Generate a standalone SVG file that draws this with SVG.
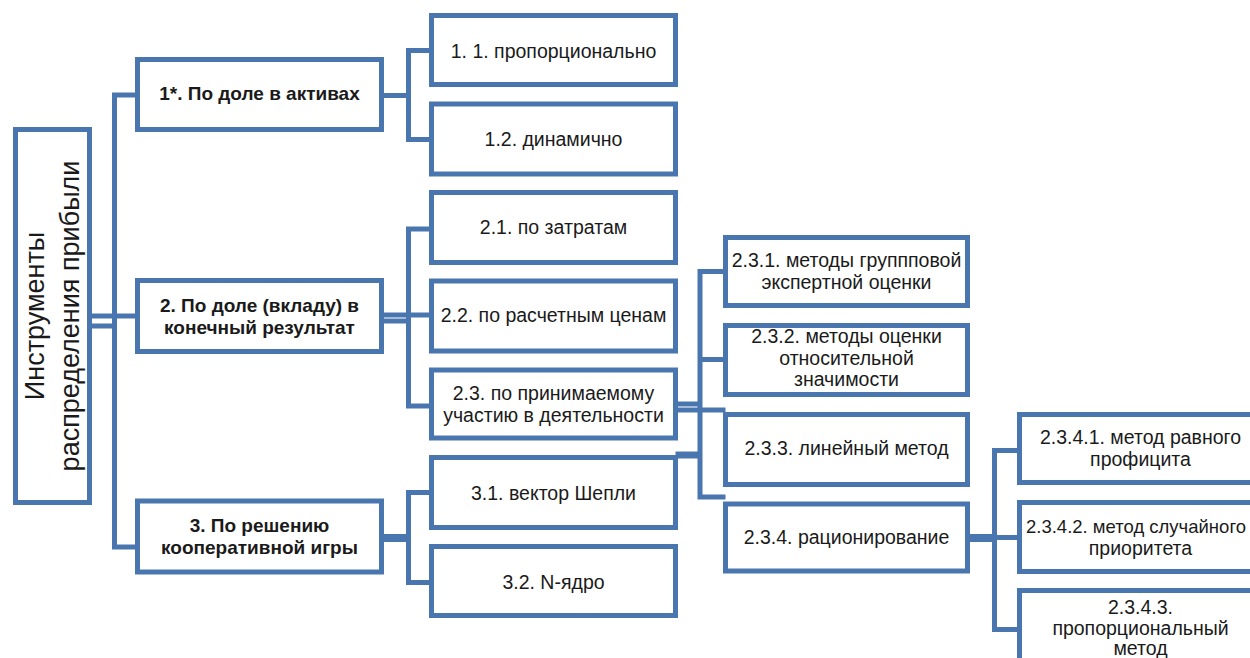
<svg xmlns="http://www.w3.org/2000/svg" width="1250" height="658" viewBox="0 0 1250 658">
<style>
.box{fill:#fff;stroke:#4a76b0;stroke-width:5}
.conn{fill:none;stroke:#4a76b0;stroke-width:5}
.t{font-family:"Liberation Sans",Arial,sans-serif;font-size:19.5px;fill:#1a1a1a;text-anchor:middle}
.b{font-weight:bold;font-size:19px}
.root{font-family:"Liberation Sans",Arial,sans-serif;font-size:27px;fill:#1a1a1a;text-anchor:middle}
</style>
<rect width="1250" height="658" fill="#fff"/>
<g id="connectors">
<path class="conn" d="M89.5 316 H137.5 M89.5 326 H114.5 M137.5 95 H114.5 V547 H137.5"/>
<path class="conn" d="M381.5 95.5 H408.5 M431.5 50.5 H408.5 V139.5 H431.5"/>
<path class="conn" d="M381.5 315 H431.5 M381.5 321 H408.5 M431.5 229 H408.5 V406 H431.5"/>
<path class="conn" d="M381.5 538 H408.5" style="stroke-width:8"/>
<path class="conn" d="M431.5 492.5 H408.5 V582.5 H431.5"/>
<path class="conn" d="M675.5 404 H700 M675.5 410 H725.5 M725.5 271.5 H700 V497 H725.5 M700 359.5 H725.5"/>
<path class="conn" d="M675.5 455 H700" style="stroke-width:7"/>
<path class="conn" d="M968 538 H994.5" style="stroke-width:8"/>
<path class="conn" d="M994.5 537.5 H1019.5 M1019.5 450.5 H994.5 V629.5 H1019.5"/>
</g>
<g id="root">
<rect class="box" x="15.5" y="129.5" width="74" height="373"/>
<text class="root" transform="translate(44,316) rotate(-90)">Инструменты</text>
<text class="root" transform="translate(79,316) rotate(-90)">распределения прибыли</text>
</g>
<g id="n1">
<rect class="box" x="137.5" y="59.5" width="244" height="70"/>
<text class="t b" x="259.5" y="100">1*. По доле в активах</text>
</g>
<g id="n2">
<rect class="box" x="137.5" y="280.5" width="244" height="71"/>
<text class="t b" x="259.5" y="311.5">2. По доле (вкладу) в</text>
<text class="t b" x="259.5" y="334">конечный результат</text>
</g>
<g id="n3">
<rect class="box" x="137.5" y="501" width="244" height="71"/>
<text class="t b" x="259.5" y="532">3. По решению</text>
<text class="t b" x="259.5" y="554">кооперативной игры</text>
</g>
<g id="n11">
<rect class="box" x="431.5" y="15.5" width="244" height="69"/>
<text class="t" x="553.5" y="57.5">1. 1. пропорционально</text>
</g>
<g id="n12">
<rect class="box" x="431.5" y="104" width="244" height="70"/>
<text class="t" x="553.5" y="146">1.2. динамично</text>
</g>
<g id="n21">
<rect class="box" x="431.5" y="192.5" width="244" height="70"/>
<text class="t" x="553.5" y="234">2.1. по затратам</text>
</g>
<g id="n22">
<rect class="box" x="431.5" y="281" width="244" height="70"/>
<text class="t" x="553.5" y="322">2.2. по расчетным ценам</text>
</g>
<g id="n23">
<rect class="box" x="431.5" y="370" width="244" height="68"/>
<text class="t" x="553.5" y="400">2.3. по принимаемому</text>
<text class="t" x="553.5" y="422">участию в деятельности</text>
</g>
<g id="n31">
<rect class="box" x="431.5" y="457.5" width="244" height="70"/>
<text class="t" x="553.5" y="500">3.1. вектор Шепли</text>
</g>
<g id="n32">
<rect class="box" x="431.5" y="546.5" width="244" height="69"/>
<text class="t" x="553.5" y="589">3.2. N-ядро</text>
</g>
<g id="n231">
<rect class="box" x="725.5" y="237.5" width="242" height="68"/>
<text class="t" x="846.5" y="267">2.3.1. методы группповой</text>
<text class="t" x="846.5" y="289">экспертной оценки</text>
</g>
<g id="n232">
<rect class="box" x="725.5" y="325.5" width="242" height="69"/>
<text class="t" x="846.5" y="343">2.3.2. методы оценки</text>
<text class="t" x="846.5" y="364.5">относительной</text>
<text class="t" x="846.5" y="386">значимости</text>
</g>
<g id="n233">
<rect class="box" x="725.5" y="414.5" width="242" height="70"/>
<text class="t" x="846.5" y="455">2.3.3. линейный метод</text>
</g>
<g id="n234">
<rect class="box" x="725.5" y="504" width="242" height="67"/>
<text class="t" x="846.5" y="544">2.3.4. рационирование</text>
</g>
<g id="n2341">
<rect class="box" x="1019.5" y="414.5" width="242" height="68"/>
<text class="t" x="1140.5" y="444">2.3.4.1. метод равного</text>
<text class="t" x="1140.5" y="466">профицита</text>
</g>
<g id="n2342">
<rect class="box" x="1019.5" y="502.5" width="242" height="69"/>
<text class="t" x="1136" y="533" style="font-size:18.5px">2.3.4.2. метод случайного</text>
<text class="t" x="1140.5" y="555">приоритета</text>
</g>
<g id="n2343">
<rect class="box" x="1019.5" y="590.5" width="242" height="72"/>
<text class="t" x="1140.5" y="614">2.3.4.3.</text>
<text class="t" x="1140.5" y="635">пропорциональный</text>
<text class="t" x="1140.5" y="655">метод</text>
</g>
</svg>
